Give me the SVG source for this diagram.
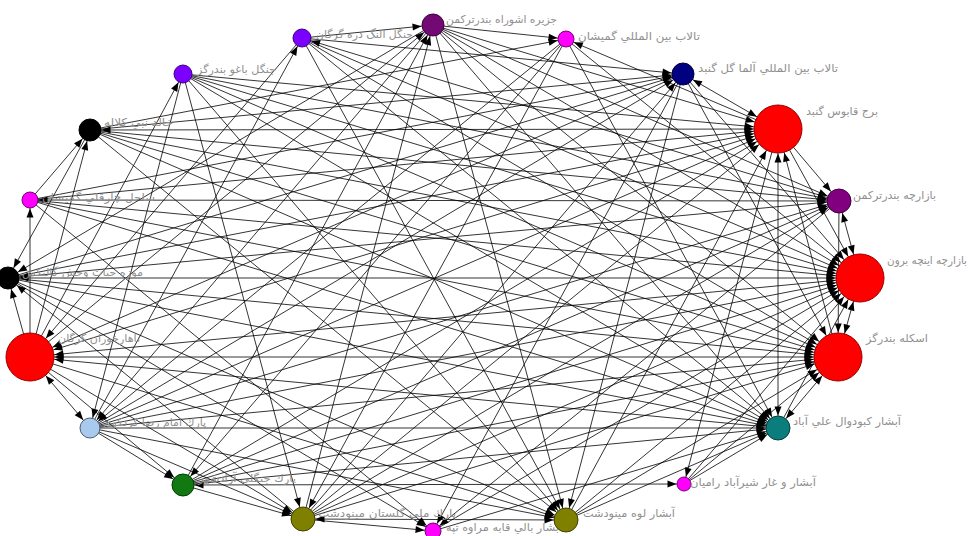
<svg xmlns="http://www.w3.org/2000/svg" width="970" height="536" viewBox="0 0 970 536">
<style>
.e{stroke:#000;stroke-width:0.8;fill:none}
.ah{fill:#000}
.lbl{font-family:"DejaVu Sans",sans-serif;font-size:11px;fill:#909090}
circle{stroke-width:1}
</style>
<defs>
<marker id="m24" markerUnits="userSpaceOnUse" markerWidth="9" markerHeight="7" refX="33.5" refY="3.5" orient="auto-start-reverse" overflow="visible"><path class="ah" d="M0,0L9,3.5L0,7z"/></marker>
<marker id="m12" markerUnits="userSpaceOnUse" markerWidth="9" markerHeight="7" refX="21.5" refY="3.5" orient="auto-start-reverse" overflow="visible"><path class="ah" d="M0,0L9,3.5L0,7z"/></marker>
<marker id="m11" markerUnits="userSpaceOnUse" markerWidth="9" markerHeight="7" refX="20.5" refY="3.5" orient="auto-start-reverse" overflow="visible"><path class="ah" d="M0,0L9,3.5L0,7z"/></marker>
<marker id="m10" markerUnits="userSpaceOnUse" markerWidth="9" markerHeight="7" refX="19.5" refY="3.5" orient="auto-start-reverse" overflow="visible"><path class="ah" d="M0,0L9,3.5L0,7z"/></marker>
<marker id="m9" markerUnits="userSpaceOnUse" markerWidth="9" markerHeight="7" refX="18.5" refY="3.5" orient="auto-start-reverse" overflow="visible"><path class="ah" d="M0,0L9,3.5L0,7z"/></marker>
<marker id="m8" markerUnits="userSpaceOnUse" markerWidth="9" markerHeight="7" refX="17.5" refY="3.5" orient="auto-start-reverse" overflow="visible"><path class="ah" d="M0,0L9,3.5L0,7z"/></marker>
<marker id="m7" markerUnits="userSpaceOnUse" markerWidth="9" markerHeight="7" refX="16.5" refY="3.5" orient="auto-start-reverse" overflow="visible"><path class="ah" d="M0,0L9,3.5L0,7z"/></marker>
</defs>
<rect width="970" height="536" fill="#fff"/>
<g id="connectors">
<line class="e" x1="433" y1="25" x2="566" y2="39" marker-end="url(#m8)"/>
<line class="e" x1="433" y1="25" x2="778" y2="129" marker-end="url(#m24)"/>
<line class="e" x1="433" y1="25" x2="839" y2="201" marker-end="url(#m12)"/>
<line class="e" x1="433" y1="25" x2="860" y2="278" marker-end="url(#m24)"/>
<line class="e" x1="433" y1="25" x2="838" y2="357" marker-end="url(#m24)"/>
<line class="e" x1="433" y1="25" x2="778" y2="428" marker-end="url(#m12)"/>
<line class="e" x1="433" y1="25" x2="566" y2="520" marker-end="url(#m12)"/>
<line class="e" x1="433" y1="25" x2="90" y2="428" marker-end="url(#m10)"/>
<line class="e" x1="433" y1="25" x2="8" y2="278" marker-end="url(#m11)"/>
<line class="e" x1="683" y1="74" x2="778" y2="129" marker-end="url(#m24)" marker-start="url(#m11)"/>
<line class="e" x1="778" y1="129" x2="566" y2="39" marker-end="url(#m8)"/>
<line class="e" x1="778" y1="129" x2="839" y2="201" marker-end="url(#m12)"/>
<line class="e" x1="778" y1="129" x2="860" y2="278" marker-end="url(#m24)"/>
<line class="e" x1="838" y1="357" x2="778" y2="129" marker-end="url(#m24)"/>
<line class="e" x1="778" y1="129" x2="778" y2="428" marker-end="url(#m12)" marker-start="url(#m24)"/>
<line class="e" x1="778" y1="129" x2="90" y2="130" marker-end="url(#m11)" marker-start="url(#m24)"/>
<line class="e" x1="778" y1="129" x2="684" y2="484" marker-end="url(#m7)"/>
<line class="e" x1="303" y1="519" x2="778" y2="129" marker-end="url(#m24)"/>
<line class="e" x1="183" y1="485" x2="778" y2="129" marker-end="url(#m24)"/>
<line class="e" x1="90" y1="428" x2="778" y2="129" marker-end="url(#m24)"/>
<line class="e" x1="30" y1="357" x2="778" y2="129" marker-end="url(#m24)" marker-start="url(#m24)"/>
<line class="e" x1="8" y1="278" x2="778" y2="129" marker-end="url(#m24)"/>
<line class="e" x1="30" y1="200" x2="778" y2="129" marker-end="url(#m24)"/>
<line class="e" x1="183" y1="74" x2="778" y2="129" marker-end="url(#m24)"/>
<line class="e" x1="566" y1="520" x2="778" y2="129" marker-end="url(#m24)"/>
<line class="e" x1="839" y1="201" x2="860" y2="278" marker-end="url(#m24)" marker-start="url(#m12)"/>
<line class="e" x1="860" y1="278" x2="838" y2="357" marker-end="url(#m24)" marker-start="url(#m24)"/>
<line class="e" x1="860" y1="278" x2="8" y2="278" marker-end="url(#m11)" marker-start="url(#m24)"/>
<line class="e" x1="683" y1="74" x2="860" y2="278" marker-end="url(#m24)"/>
<line class="e" x1="778" y1="428" x2="860" y2="278" marker-end="url(#m24)"/>
<line class="e" x1="566" y1="520" x2="860" y2="278" marker-end="url(#m24)"/>
<line class="e" x1="303" y1="519" x2="860" y2="278" marker-end="url(#m24)"/>
<line class="e" x1="183" y1="485" x2="860" y2="278" marker-end="url(#m24)"/>
<line class="e" x1="90" y1="428" x2="860" y2="278" marker-end="url(#m24)"/>
<line class="e" x1="30" y1="357" x2="860" y2="278" marker-end="url(#m24)" marker-start="url(#m24)"/>
<line class="e" x1="30" y1="200" x2="860" y2="278" marker-end="url(#m24)"/>
<line class="e" x1="90" y1="130" x2="860" y2="278" marker-end="url(#m24)"/>
<line class="e" x1="183" y1="74" x2="860" y2="278" marker-end="url(#m24)"/>
<line class="e" x1="302" y1="38" x2="860" y2="278" marker-end="url(#m24)"/>
<line class="e" x1="433" y1="531" x2="860" y2="278" marker-end="url(#m24)"/>
<line class="e" x1="684" y1="484" x2="860" y2="278" marker-end="url(#m24)"/>
<line class="e" x1="566" y1="39" x2="860" y2="278" marker-end="url(#m24)"/>
<line class="e" x1="839" y1="201" x2="838" y2="357" marker-end="url(#m24)"/>
<line class="e" x1="838" y1="357" x2="778" y2="428" marker-end="url(#m12)" marker-start="url(#m24)"/>
<line class="e" x1="838" y1="357" x2="30" y2="357" marker-end="url(#m24)" marker-start="url(#m24)"/>
<line class="e" x1="683" y1="74" x2="838" y2="357" marker-end="url(#m24)"/>
<line class="e" x1="566" y1="520" x2="838" y2="357" marker-end="url(#m24)"/>
<line class="e" x1="303" y1="519" x2="838" y2="357" marker-end="url(#m24)"/>
<line class="e" x1="183" y1="485" x2="838" y2="357" marker-end="url(#m24)"/>
<line class="e" x1="90" y1="428" x2="838" y2="357" marker-end="url(#m24)"/>
<line class="e" x1="8" y1="278" x2="838" y2="357" marker-end="url(#m24)"/>
<line class="e" x1="90" y1="130" x2="838" y2="357" marker-end="url(#m24)"/>
<line class="e" x1="183" y1="74" x2="838" y2="357" marker-end="url(#m24)"/>
<line class="e" x1="302" y1="38" x2="838" y2="357" marker-end="url(#m24)"/>
<line class="e" x1="684" y1="484" x2="838" y2="357" marker-end="url(#m24)"/>
<line class="e" x1="30" y1="200" x2="838" y2="357" marker-end="url(#m24)"/>
<line class="e" x1="30" y1="357" x2="8" y2="278" marker-end="url(#m11)"/>
<line class="e" x1="30" y1="357" x2="30" y2="200" marker-end="url(#m8)"/>
<line class="e" x1="30" y1="357" x2="90" y2="428" marker-end="url(#m10)" marker-start="url(#m24)"/>
<line class="e" x1="30" y1="357" x2="433" y2="25" marker-end="url(#m11)"/>
<line class="e" x1="683" y1="74" x2="30" y2="357" marker-end="url(#m24)"/>
<line class="e" x1="778" y1="428" x2="30" y2="357" marker-end="url(#m24)"/>
<line class="e" x1="30" y1="357" x2="303" y2="519" marker-end="url(#m12)"/>
<line class="e" x1="30" y1="357" x2="183" y2="485" marker-end="url(#m11)"/>
<line class="e" x1="30" y1="357" x2="566" y2="520" marker-end="url(#m12)"/>
<line class="e" x1="30" y1="357" x2="90" y2="130" marker-end="url(#m11)"/>
<line class="e" x1="30" y1="357" x2="183" y2="74" marker-end="url(#m9)"/>
<line class="e" x1="302" y1="38" x2="30" y2="357" marker-end="url(#m24)"/>
<line class="e" x1="839" y1="201" x2="30" y2="200" marker-end="url(#m8)" marker-start="url(#m12)"/>
<line class="e" x1="684" y1="484" x2="183" y2="485" marker-end="url(#m11)" marker-start="url(#m7)"/>
<line class="e" x1="566" y1="520" x2="303" y2="519" marker-end="url(#m12)" marker-start="url(#m12)"/>
<line class="e" x1="90" y1="130" x2="8" y2="278" marker-end="url(#m11)"/>
<line class="e" x1="8" y1="278" x2="839" y2="201" marker-end="url(#m12)" marker-start="url(#m11)"/>
<line class="e" x1="90" y1="130" x2="839" y2="201" marker-end="url(#m12)"/>
<line class="e" x1="183" y1="74" x2="839" y2="201" marker-end="url(#m12)"/>
<line class="e" x1="183" y1="485" x2="839" y2="201" marker-end="url(#m12)"/>
<line class="e" x1="90" y1="428" x2="839" y2="201" marker-end="url(#m12)"/>
<line class="e" x1="839" y1="201" x2="433" y2="531" marker-end="url(#m8)"/>
<line class="e" x1="303" y1="519" x2="839" y2="201" marker-end="url(#m12)"/>
<line class="e" x1="839" y1="201" x2="302" y2="38" marker-end="url(#m9)"/>
<line class="e" x1="8" y1="278" x2="778" y2="428" marker-end="url(#m12)"/>
<line class="e" x1="90" y1="130" x2="778" y2="428" marker-end="url(#m12)"/>
<line class="e" x1="302" y1="38" x2="778" y2="428" marker-end="url(#m12)"/>
<line class="e" x1="183" y1="485" x2="778" y2="428" marker-end="url(#m12)"/>
<line class="e" x1="90" y1="428" x2="778" y2="428" marker-end="url(#m12)"/>
<line class="e" x1="566" y1="39" x2="778" y2="428" marker-end="url(#m12)"/>
<line class="e" x1="30" y1="200" x2="778" y2="428" marker-end="url(#m12)"/>
<line class="e" x1="183" y1="74" x2="778" y2="428" marker-end="url(#m12)"/>
<line class="e" x1="684" y1="484" x2="778" y2="428" marker-end="url(#m12)"/>
<line class="e" x1="566" y1="520" x2="778" y2="428" marker-end="url(#m12)"/>
<line class="e" x1="433" y1="531" x2="778" y2="428" marker-end="url(#m12)"/>
<line class="e" x1="302" y1="38" x2="683" y2="74" marker-end="url(#m11)"/>
<line class="e" x1="90" y1="130" x2="683" y2="74" marker-end="url(#m11)"/>
<line class="e" x1="8" y1="278" x2="683" y2="74" marker-end="url(#m11)"/>
<line class="e" x1="90" y1="428" x2="683" y2="74" marker-end="url(#m11)"/>
<line class="e" x1="303" y1="519" x2="683" y2="74" marker-end="url(#m11)"/>
<line class="e" x1="30" y1="200" x2="683" y2="74" marker-end="url(#m11)"/>
<line class="e" x1="683" y1="74" x2="566" y2="520" marker-end="url(#m12)"/>
<line class="e" x1="683" y1="74" x2="433" y2="531" marker-end="url(#m8)"/>
<line class="e" x1="183" y1="485" x2="433" y2="25" marker-end="url(#m11)"/>
<line class="e" x1="303" y1="519" x2="433" y2="25" marker-end="url(#m11)"/>
<line class="e" x1="302" y1="38" x2="433" y2="25" marker-end="url(#m11)"/>
<line class="e" x1="90" y1="130" x2="566" y2="39" marker-end="url(#m8)"/>
<line class="e" x1="566" y1="39" x2="183" y2="485" marker-end="url(#m11)"/>
<line class="e" x1="566" y1="39" x2="303" y2="519" marker-end="url(#m12)"/>
<line class="e" x1="566" y1="39" x2="90" y2="428" marker-end="url(#m10)"/>
<line class="e" x1="302" y1="38" x2="566" y2="520" marker-end="url(#m12)"/>
<line class="e" x1="303" y1="519" x2="433" y2="531" marker-end="url(#m8)"/>
<line class="e" x1="30" y1="200" x2="433" y2="531" marker-end="url(#m8)"/>
<line class="e" x1="8" y1="278" x2="433" y2="531" marker-end="url(#m8)"/>
<line class="e" x1="90" y1="428" x2="183" y2="485" marker-end="url(#m11)"/>
<line class="e" x1="183" y1="485" x2="303" y2="519" marker-end="url(#m12)"/>
<line class="e" x1="90" y1="428" x2="303" y2="519" marker-end="url(#m12)"/>
<line class="e" x1="90" y1="428" x2="566" y2="520" marker-end="url(#m12)"/>
<line class="e" x1="8" y1="278" x2="566" y2="520" marker-end="url(#m12)"/>
<line class="e" x1="90" y1="130" x2="566" y2="520" marker-end="url(#m12)"/>
<line class="e" x1="303" y1="519" x2="8" y2="278" marker-end="url(#m11)"/>
<line class="e" x1="30" y1="200" x2="90" y2="130" marker-end="url(#m11)"/>
<line class="e" x1="90" y1="428" x2="302" y2="38" marker-end="url(#m9)"/>
<line class="e" x1="183" y1="74" x2="90" y2="428" marker-end="url(#m10)"/>
<line class="e" x1="183" y1="74" x2="566" y2="520" marker-end="url(#m12)"/>
<line class="e" x1="183" y1="74" x2="303" y2="519" marker-end="url(#m12)"/>
</g>
<g id="n1"><circle cx="433" cy="25" r="11" fill="#730a73" stroke="#3c003c"/><text class="lbl" x="446" y="23" textLength="111" lengthAdjust="spacingAndGlyphs">جزيره اشوراه بندرتركمن</text></g>
<g id="n2"><circle cx="566" cy="39" r="8" fill="#ff00ff" stroke="#7a007a"/><text class="lbl" x="578" y="40" textLength="122" lengthAdjust="spacingAndGlyphs">تالاب بين المللي گميشان</text></g>
<g id="n3"><circle cx="683" cy="74" r="11" fill="#000080" stroke="#000040"/><text class="lbl" x="698" y="72" textLength="140" lengthAdjust="spacingAndGlyphs">تالاب بين المللي آلما گل گنبد</text></g>
<g id="n4"><circle cx="778" cy="129" r="24" fill="#ff0000" stroke="#990000"/><text class="lbl" x="806" y="115" textLength="72" lengthAdjust="spacingAndGlyphs">برج قابوس گنبد</text></g>
<g id="n5"><circle cx="839" cy="201" r="12" fill="#800080" stroke="#400040"/><text class="lbl" x="853" y="199" textLength="83" lengthAdjust="spacingAndGlyphs">بازارچه بندرتركمن</text></g>
<g id="n6"><circle cx="860" cy="278" r="24" fill="#ff0000" stroke="#990000"/><text class="lbl" x="887" y="264" textLength="80" lengthAdjust="spacingAndGlyphs">بازارچه اينچه برون</text></g>
<g id="n7"><circle cx="838" cy="357" r="24" fill="#ff0000" stroke="#990000"/><text class="lbl" x="866" y="342" textLength="62" lengthAdjust="spacingAndGlyphs">اسكله بندرگز</text></g>
<g id="n8"><circle cx="778" cy="428" r="12" fill="#0b7d7d" stroke="#004040"/><text class="lbl" x="793" y="425" textLength="108" lengthAdjust="spacingAndGlyphs">آبشار كبودوال علي آباد</text></g>
<g id="n9"><circle cx="684" cy="484" r="7" fill="#ff00ff" stroke="#7a007a"/><text class="lbl" x="690" y="486" textLength="126" lengthAdjust="spacingAndGlyphs">آبشار و غار شيرآباد راميان</text></g>
<g id="n11"><circle cx="433" cy="531" r="8" fill="#ff00ff" stroke="#7a007a"/><text class="lbl" x="446" y="531" textLength="116" lengthAdjust="spacingAndGlyphs">آبشار بالي قابه مراوه تپه</text></g>
<g id="n10"><circle cx="566" cy="520" r="12" fill="#808000" stroke="#404000"/><text class="lbl" x="583" y="517" textLength="92" lengthAdjust="spacingAndGlyphs">آبشار لوه مينودشت</text></g>
<g id="n12"><circle cx="303" cy="519" r="12" fill="#808000" stroke="#404000"/><text class="lbl" x="318" y="517" textLength="138" lengthAdjust="spacingAndGlyphs">پارك ملي گلستان مينودشت</text></g>
<g id="n13"><circle cx="183" cy="485" r="11" fill="#127812" stroke="#003c00"/><text class="lbl" x="198" y="482" textLength="98" lengthAdjust="spacingAndGlyphs">پارك جنگلي آزادشهر</text></g>
<g id="n14"><circle cx="90" cy="428" r="10" fill="#a8caee" stroke="#505a70"/><text class="lbl" x="103" y="426" textLength="103" lengthAdjust="spacingAndGlyphs">پارك امام رضا كردكوي</text></g>
<g id="n15"><circle cx="30" cy="357" r="24" fill="#ff0000" stroke="#990000"/><text class="lbl" x="58" y="342" textLength="82" lengthAdjust="spacingAndGlyphs">ناهارخوران گرگان</text></g>
<g id="n16"><circle cx="8" cy="278" r="11" fill="#000000" stroke="#000000"/><text class="lbl" x="22" y="276" textLength="121" lengthAdjust="spacingAndGlyphs">موزه حيات وحش گاليكش</text></g>
<g id="n17"><circle cx="30" cy="200" r="8" fill="#ff00ff" stroke="#7a007a"/><text class="lbl" x="42" y="201" textLength="113" lengthAdjust="spacingAndGlyphs">ساحل چارقلي گميشان</text></g>
<g id="n18"><circle cx="90" cy="130" r="11" fill="#000000" stroke="#000000"/><text class="lbl" x="104" y="126" textLength="69" lengthAdjust="spacingAndGlyphs">خالد نبي كلاله</text></g>
<g id="n19"><circle cx="183" cy="74" r="9" fill="#7b00ff" stroke="#3c0080"/><text class="lbl" x="197" y="73" textLength="79" lengthAdjust="spacingAndGlyphs">جنگل باغو بندرگز</text></g>
<g id="n20"><circle cx="302" cy="38" r="9" fill="#7b00ff" stroke="#3c0080"/><text class="lbl" x="316" y="38" textLength="97" lengthAdjust="spacingAndGlyphs">جنگل النگ دره گرگان</text></g>
</svg>
